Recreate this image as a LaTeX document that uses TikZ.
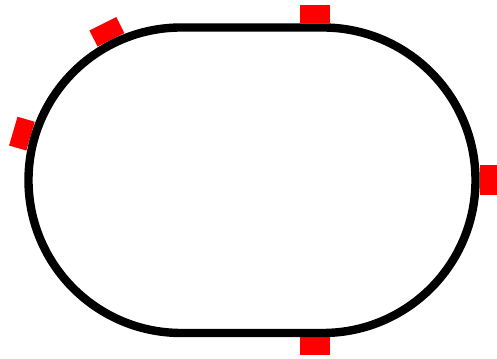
\documentclass[tikz,border=0pt]{standalone}
\usepackage{tikz}
\usetikzlibrary{positioning, calc}
\definecolor{trackred}{RGB}{255,0,0}

\tikzset{
	marker/.style={fill=trackred, minimum width=22.5pt, minimum height=13.5pt, inner sep=0pt, outer sep=0pt}
}

\begin{document}
\begin{tikzpicture}[x=0.75pt,y=0.75pt]
	\useasboundingbox (0,0) rectangle (497,359);
	\coordinate (lc) at (181.25,178.75);
	\coordinate (rc) at (322.75,178.75);
	\node[marker] (top) at (315,345) {};
	\node[marker] (bottom) at (315,13) {};
	\node[marker,rotate=90] (right) at ($(rc)+(0:166)$) {};
	\node[marker,rotate=26.6] (upperleft) at ($(lc)+(116.6:166)$) {};
	\node[marker,rotate=73.7] (left) at ($(lc)+(163.7:166)$) {};
	\draw[line width=6.3pt,fill=white] (181.25,331.5) -- (322.75,331.5)
		arc[start angle=90,end angle=-90,radius=152.75] -- (181.25,26)
		arc[start angle=270,end angle=90,radius=152.75] -- cycle;
\end{tikzpicture}
\end{document}
